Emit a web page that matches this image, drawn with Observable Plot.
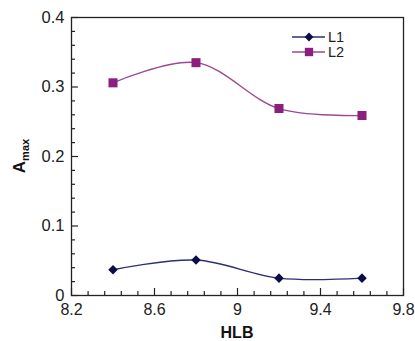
<!DOCTYPE html>
<html>
<head>
<meta charset="utf-8">
<script src="https://cdn.jsdelivr.net/npm/d3@7"></script>
<script src="https://cdn.jsdelivr.net/npm/@observablehq/plot@0.6"></script>
<style>
  html, body { margin: 0; padding: 0; background: #fff; }
  #wrap { position: relative; width: 415px; height: 341px; font-family: "Liberation Sans", Arial, sans-serif; }
  #legend { position: absolute; left: 292px; top: 29px; font-size: 14.5px; line-height: 14px; color: #222; }
  #legend .item { display: flex; align-items: center; height: 15px; }
  #legend svg { display: block; margin-right: 2px; }
</style>
</head>
<body>
<div id="wrap"><div id="chart"></div><div id="legend"></div></div>
<script>
const hlb = [8.4, 8.8, 9.2, 9.6];
const L1 = [0.037, 0.051, 0.025, 0.025];
const L2 = [0.306, 0.335, 0.269, 0.259];
const seriesNames = ["L1", "L2"];
const lineColors = ["#2e2e70", "#9c4893"];
const markColors = ["#0c0c48", "#8a1f7e"];
const symbols = ["diamond2", "square"];
const xTickValues = [8.2, 8.6, 9, 9.4, 9.8];
const xTickLabels = ["8.2", "8.6", "9", "9.4", "9.8"];
const yTickValues = [0, 0.1, 0.2, 0.3, 0.4];
const yTickLabels = ["0", "0.1", "0.2", "0.3", "0.4"];
const xMinorStep = 0.08;
const yMinorStep = 0.02;

const W = 415, H = 341, ML = 71, MR = 12, MT = 17, MB = 46;
const plotW = W - ML - MR, plotH = H - MT - MB;

const rows = [];
[L1, L2].forEach((vals, s) => vals.forEach((v, i) => rows.push({series: seriesNames[s], s, x: hlb[i], y: v})));

const xMinor = d3.range(0, 21).map(i => +(8.2 + xMinorStep * i).toFixed(3)).filter(v => !xTickValues.some(t => Math.abs(t - v) < 1e-6));
const yMinor = d3.range(0, 21).map(i => +(yMinorStep * i).toFixed(3)).filter(v => !yTickValues.some(t => Math.abs(t - v) < 1e-6));

const majorLen = 7, minorLen = 4;

const marks = [
  Plot.tickX(xTickValues, {x: d => d, insetTop: plotH - majorLen, stroke: "#222", strokeWidth: 1.2}),
  Plot.tickX(xMinor, {x: d => d, insetTop: plotH - minorLen, stroke: "#222", strokeWidth: 1.2}),
  Plot.tickY(yTickValues, {y: d => d, insetRight: plotW - majorLen, stroke: "#222", strokeWidth: 1.2}),
  Plot.tickY(yMinor, {y: d => d, insetRight: plotW - minorLen, stroke: "#222", strokeWidth: 1.2}),
  Plot.frame({stroke: "#222", strokeWidth: 1.3}),
  Plot.axisX({ticks: xTickValues, tickSize: 0, tickPadding: 8, tickFormat: (d, i) => xTickLabels[i], fontSize: 16, fill: "#222", label: null}),
  Plot.axisY({ticks: yTickValues, tickSize: 0, tickPadding: 7, tickFormat: (d, i) => yTickLabels[i], fontSize: 16.5, fill: "#222", label: null})
];
seriesNames.forEach((name, s) => {
  const data = rows.filter(r => r.s === s);
  marks.push(Plot.line(data, {x: "x", y: "y", curve: "catmull-rom", stroke: lineColors[s], strokeWidth: 1.4}));
  marks.push(Plot.dot(data, {x: "x", y: "y", symbol: symbols[s], r: s === 0 ? 4.3 : 5.1, fill: markColors[s], stroke: "none"}));
});

const svg = Plot.plot({
  width: W,
  height: H,
  marginLeft: ML,
  marginRight: MR,
  marginTop: MT,
  marginBottom: MB,
  style: {fontFamily: "Liberation Sans, Arial, sans-serif", background: "#fff"},
  x: {domain: [8.2, 9.8]},
  y: {domain: [0, 0.4]},
  marks
});
document.getElementById("chart").appendChild(svg);

const sel = d3.select(svg);
sel.append("text")
  .attr("x", 237).attr("y", 338)
  .attr("text-anchor", "middle")
  .attr("font-family", "Liberation Sans, Arial, sans-serif")
  .attr("font-weight", "bold").attr("font-size", 16).attr("fill", "#111")
  .text("HLB");
const yl = sel.append("text")
  .attr("transform", "translate(25,156) rotate(-90)")
  .attr("text-anchor", "middle")
  .attr("font-family", "Liberation Sans, Arial, sans-serif")
  .attr("font-weight", "bold").attr("font-size", 17).attr("fill", "#111");
yl.append("tspan").text("A");
yl.append("tspan").attr("font-size", 11).attr("dy", 4).text("max");

const legend = d3.select("#legend");
seriesNames.forEach((name, s) => {
  const item = legend.append("div").attr("class", "item");
  const sw = item.append("svg").attr("width", 34).attr("height", 14);
  sw.append("line").attr("x1", 0).attr("x2", 33).attr("y1", 7).attr("y2", 7).attr("stroke", lineColors[s]).attr("stroke-width", 1.4);
  sw.append("path").attr("transform", "translate(17,7)")
    .attr("d", d3.symbol(s === 0 ? d3.symbolDiamond2 : d3.symbolSquare, s === 0 ? 50 : 70)())
    .attr("fill", markColors[s]);
  item.append("span").text(name);
});
</script>
</body>
</html>
